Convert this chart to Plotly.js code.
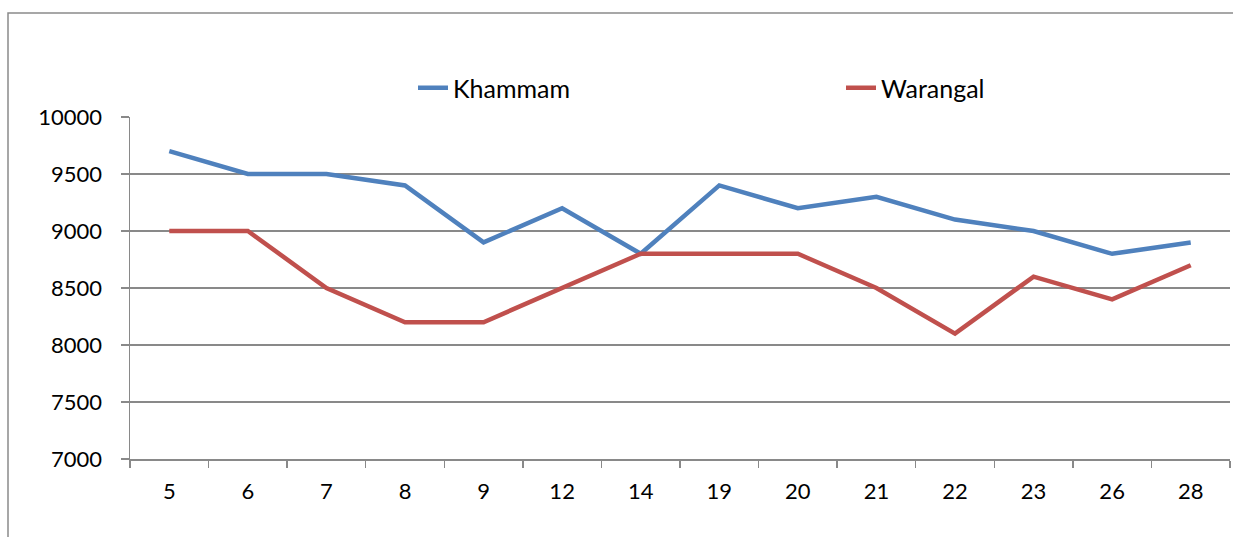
<!DOCTYPE html>
<html>
<head>
<meta charset="utf-8">
<script src="https://cdn.plot.ly/plotly-3.0.1.min.js"></script>
<style>
html,body{margin:0;padding:0;background:#fff;}
#chart{width:1233px;height:537px;}
</style>
</head>
<body>
<div id="chart"></div>
<script>
const categories = ["5","6","7","8","9","12","14","19","20","21","22","23","26","28"];
const khammam = [9700,9500,9500,9400,8900,9200,8800,9400,9200,9300,9100,9000,8800,8900];
const warangal = [9000,9000,8500,8200,8200,8500,8800,8800,8800,8500,8100,8600,8400,8700];
const yTicks = [7000,7500,8000,8500,9000,9500,10000];

const W = 1233, H = 537, L = 130, R = 3, T = 117, B = 78;
const pw = W - L - R, ph = H - T - B;
const px = x => (x - L) / pw;
const py = y => (H - B - y) / ph;

const font = "Lato, 'Open Sans', 'Liberation Sans', sans-serif";
const legFont = {family: font, size: 25, color: "#000"};

const traces = [
  {x: categories, y: khammam, name: "Khammam", type: "scatter", mode: "lines",
   legend: "legend", line: {color: "#4F81BD", width: 4.5}},
  {x: categories, y: warangal, name: "Warangal", type: "scatter", mode: "lines",
   legend: "legend2", line: {color: "#C0504D", width: 4.5}}
];

const layout = {
  width: W, height: H,
  margin: {l: L, r: R, t: T, b: B, pad: 0},
  paper_bgcolor: "#fff", plot_bgcolor: "#fff",
  font: {family: font, size: 22, color: "#000"},
  showlegend: true,
  legend: {orientation: "h", x: px(413), xanchor: "left", y: py(88), yanchor: "middle",
           font: legFont, bgcolor: "rgba(0,0,0,0)"},
  legend2: {orientation: "h", x: px(841), xanchor: "left", y: py(88), yanchor: "middle",
           font: legFont, bgcolor: "rgba(0,0,0,0)"},
  xaxis: {type: "category", range: [-0.5, 13.5], tickson: "boundaries", ticks: "outside", ticklen: 7,
          tickcolor: "#898989", tickwidth: 1.5, showgrid: false, showline: true,
          linecolor: "#898989", linewidth: 1.5, zeroline: false,
          ticklabelstandoff: 12, fixedrange: true, tickfont: {size: 22}},
  yaxis: {range: [7000, 10000], tickvals: yTicks, ticktext: yTicks.map(String),
          ticks: "outside", ticklen: 8, tickcolor: "#898989", tickwidth: 1.5,
          showgrid: true, gridcolor: "#898989", gridwidth: 1.5,
          showline: true, linecolor: "#898989", linewidth: 1.5, zeroline: false,
          ticklabelstandoff: 14, tickfont: {size: 22}, fixedrange: true},
  shapes: [
    {type: "path", xref: "paper", yref: "paper", layer: "below",
     path: `M ${px(8)} ${py(560)} L ${px(8)} ${py(13)} L ${px(1260)} ${py(13)}`,
     line: {color: "#8a8a8a", width: 1.5}}
  ]
};

Plotly.newPlot("chart", traces, layout, {displayModeBar: false, staticPlot: true});
</script>
</body>
</html>
